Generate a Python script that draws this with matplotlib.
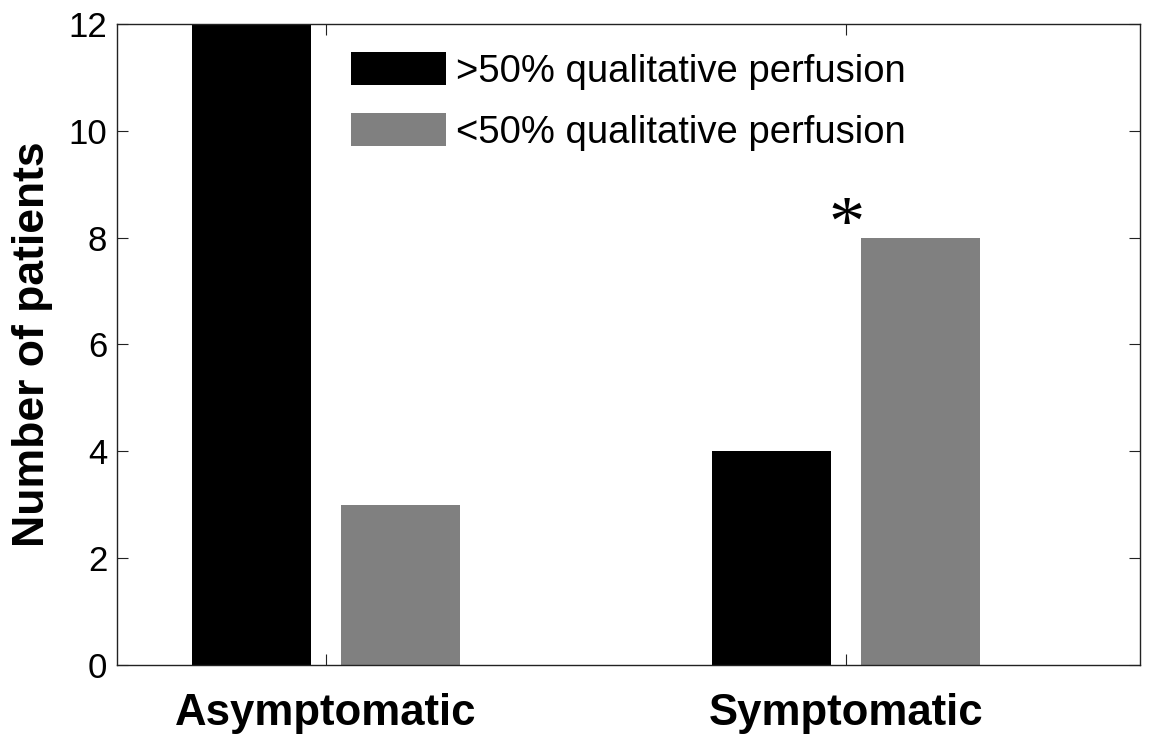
import numpy as np
import matplotlib
matplotlib.use("Agg")
import matplotlib.pyplot as plt

# Patient counts per symptom group
categories = ["Asymptomatic", "Symptomatic"]
above50 = [12, 4]   # >50% qualitative perfusion
below50 = [3, 8]    # <50% qualitative perfusion
series_labels = [">50% qualitative perfusion", "<50% qualitative perfusion"]
yticks = [0, 2, 4, 6, 8, 10, 12]

plt.rcParams["font.family"] = ["Liberation Sans", "DejaVu Sans"]

fig = plt.figure(figsize=(11.58, 7.36), dpi=100)
ax = fig.add_axes([0.10104, 0.09647, 0.88342, 0.87092])

x = np.arange(1, len(categories) + 1)
w = 0.229
off = 0.143
ax.bar(x - off, above50, width=w, color="#000000", label=series_labels[0])
ax.bar(x + off, below50, width=w, color="#808080", label=series_labels[1])

ax.set_xlim(0.598, 2.565)
ax.set_ylim(0, 12)
ax.set_yticks(yticks)
ax.set_xticks(x)
ax.set_xticklabels(categories, fontsize=31.5, fontweight="bold")
ax.tick_params(axis="x", pad=20)
ax.tick_params(axis="y", labelsize=25, pad=7)
ax.tick_params(direction="in", length=8, width=0.8, top=True, right=True, color="#222222")
for s in ax.spines.values():
    s.set_linewidth(1.0)
    s.set_color("#222222")

ax.set_ylabel("Number of patients", fontsize=32, fontweight="bold", labelpad=11)

# significance marker above the symptomatic group
ax.text(x[1], below50[1] - 0.14, "*", fontfamily="Liberation Serif", fontsize=52,
        ha="center", va="baseline")

ax.legend(loc="upper left", bbox_to_anchor=(0.2287, 0.9563), frameon=False,
          fontsize=27.5, handlelength=2.5, handleheight=0.97, labelspacing=0.6,
          handletextpad=0.24, borderpad=0, borderaxespad=0)

fig.savefig("out.png", dpi=100)
